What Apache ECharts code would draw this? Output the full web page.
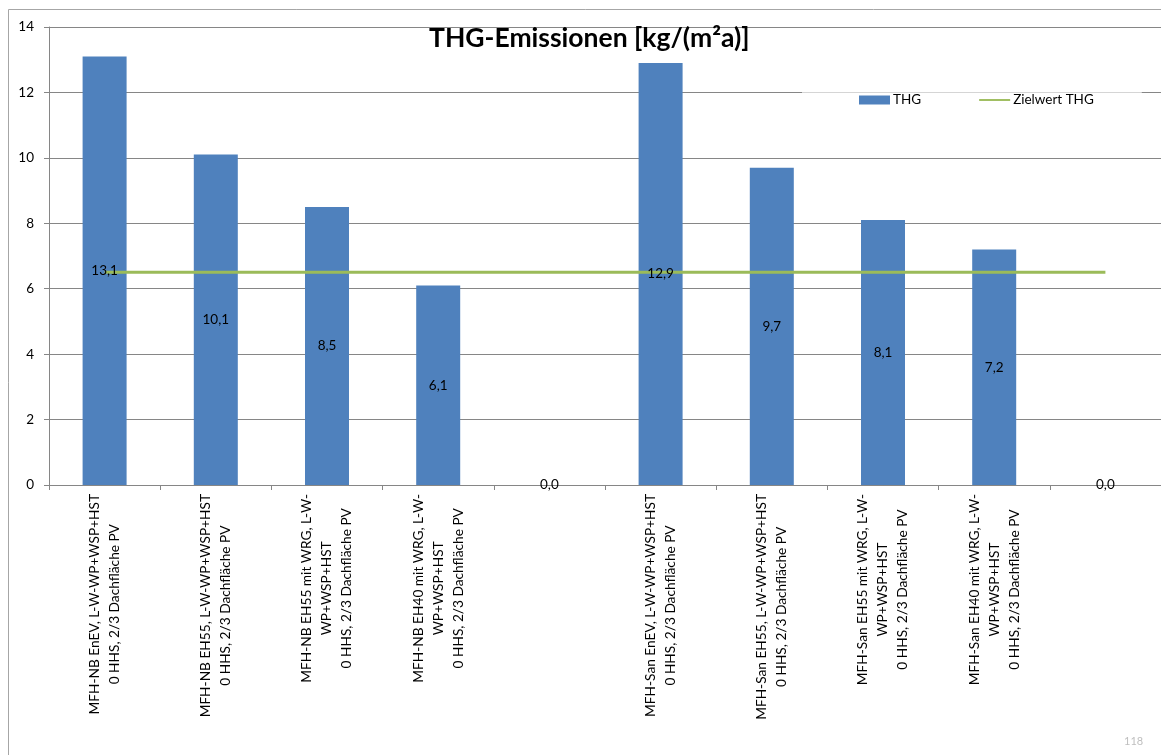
<!DOCTYPE html>
<html>
<head>
<meta charset="utf-8">
<title>THG-Emissionen</title>
<script src="https://cdn.jsdelivr.net/npm/echarts@6/dist/echarts.min.js"></script>
<style>
  html, body { margin: 0; padding: 0; background: #fff; }
  #chart { width: 1161px; height: 755px; }
</style>
</head>
<body>
<div id="chart"></div>
<script>
// Variants of multi-family houses (new build / refurbishment)
const categories = [
  'MFH-NB EnEV, L-W-WP+WSP+HST\n0 HHS, 2/3 Dachfläche PV',
  'MFH-NB EH55, L-W-WP+WSP+HST\n0 HHS, 2/3 Dachfläche PV',
  'MFH-NB EH55 mit WRG, L-W-\nWP+WSP+HST\n0 HHS, 2/3 Dachfläche PV',
  'MFH-NB EH40 mit WRG, L-W-\nWP+WSP+HST\n0 HHS, 2/3 Dachfläche PV',
  '',
  'MFH-San EnEV, L-W-WP+WSP+HST\n0 HHS, 2/3 Dachfläche PV',
  'MFH-San EH55, L-W-WP+WSP+HST\n0 HHS, 2/3 Dachfläche PV',
  'MFH-San EH55 mit WRG, L-W-\nWP+WSP+HST\n0 HHS, 2/3 Dachfläche PV',
  'MFH-San EH40 mit WRG, L-W-\nWP+WSP+HST\n0 HHS, 2/3 Dachfläche PV',
  ' '
];

// Greenhouse gas emissions in kg/(m²a)
const thgValues = [13.1, 10.1, 8.5, 6.1, 0, 12.9, 9.7, 8.1, 7.2, 0];

// Target value, constant across all variants
const zielwertValues = [6.5, 6.5, 6.5, 6.5, 6.5, 6.5, 6.5, 6.5, 6.5, 6.5];

const yAxisMin = 0;
const yAxisMax = 14;
const yAxisStep = 2;

const FONT = 'Lato, "Noto Sans", sans-serif';
const GRID_COLOR = '#868686';
const BAR_COLOR = '#4F81BD';
const TARGET_COLOR = '#9BBB59';
const LABEL_SIZE = 13.7;

const chart = echarts.init(document.getElementById('chart'), null, { renderer: 'canvas' });

const fmtDe = v => Number(v).toFixed(1).replace('.', ',');

// Legend glyph for the target line: thin horizontal stroke inside a 33x9 box
const lineIcon = 'path://M0,0L0,0M33,9L33,9M0,3.5L33,3.5L33,5.5L0,5.5Z';

chart.setOption({
  animation: false,
  backgroundColor: '#ffffff',
  textStyle: { fontFamily: FONT },
  title: {
    text: 'THG-Emissionen [kg/(m²a)]',
    left: 429,
    top: 25,
    padding: 0,
    textStyle: { fontFamily: FONT, fontSize: 26.5, fontWeight: 'bold', color: '#000' }
  },
  legend: {
    left: 802,
    top: 90,
    padding: [3, 48, 10, 57],
    backgroundColor: 'rgba(255,255,255,0.65)',
    itemWidth: 31,
    itemHeight: 9,
    itemGap: 58,
    textStyle: { fontFamily: FONT, fontSize: 13.5, color: '#000', padding: [0, 0, 0, -2] },
    data: [
      { name: 'THG', icon: 'rect' },
      { name: 'Zielwert THG', icon: lineIcon, itemStyle: { color: TARGET_COLOR } }
    ]
  },
  graphic: [
    {
      type: 'rect',
      silent: true,
      shape: { x: 8.5, y: 9.5, width: 1200, height: 800 },
      style: { fill: 'none', stroke: '#a6a6a6', lineWidth: 1 },
      z: 0
    },
    {
      type: 'text',
      silent: true,
      x: 1124,
      y: 736,
      style: { text: '118', fill: '#bfbfbf', fontSize: 11, fontFamily: FONT }
    }
  ],
  grid: {
    left: 49,
    top: 27,
    right: -9,
    bottom: 270,
    containLabel: false
  },
  xAxis: {
    type: 'category',
    data: categories,
    boundaryGap: true,
    axisLine: { lineStyle: { color: GRID_COLOR, width: 1 } },
    axisTick: { show: true, alignWithLabel: false, length: 5, lineStyle: { color: GRID_COLOR } },
    axisLabel: {
      interval: 0,
      rotate: 90,
      margin: 9,
      color: '#000',
      fontFamily: FONT,
      fontSize: LABEL_SIZE,
      lineHeight: 20,
      formatter: function (value) {
        const t = value.trim();
        if (!t) return '';
        return t.split('\n').map(l => '{c|' + l + '}').join('\n');
      },
      rich: {
        c: { align: 'center', fontFamily: FONT, fontSize: LABEL_SIZE, lineHeight: 20, color: '#000' }
      }
    }
  },
  yAxis: {
    type: 'value',
    min: yAxisMin,
    max: yAxisMax,
    interval: yAxisStep,
    axisLine: { show: true, lineStyle: { color: GRID_COLOR, width: 1 } },
    axisTick: { show: true, length: 5, lineStyle: { color: GRID_COLOR } },
    axisLabel: { margin: 15, color: '#000', fontFamily: FONT, fontSize: 13.5 },
    splitLine: { show: true, lineStyle: { color: GRID_COLOR, width: 1 } }
  },
  series: [
    {
      name: 'THG',
      type: 'bar',
      data: thgValues,
      barWidth: 44,
      barGap: '-100%',
      itemStyle: { color: BAR_COLOR },
      z: 2
    },
    {
      name: 'Zielwert THG',
      type: 'line',
      data: zielwertValues,
      symbol: 'none',
      showSymbol: false,
      lineStyle: { color: TARGET_COLOR, width: 3 },
      itemStyle: { color: TARGET_COLOR },
      z: 3
    },
    {
      // value labels, drawn above the target line
      name: 'THG-Werte',
      type: 'bar',
      data: thgValues,
      barWidth: 44,
      barGap: '-100%',
      silent: true,
      itemStyle: { color: 'rgba(0,0,0,0)' },
      label: {
        show: true,
        position: 'inside',
        color: '#000',
        fontFamily: FONT,
        fontSize: 13.5,
        formatter: p => fmtDe(p.value)
      },
      z: 4
    }
  ]
});
</script>
</body>
</html>
